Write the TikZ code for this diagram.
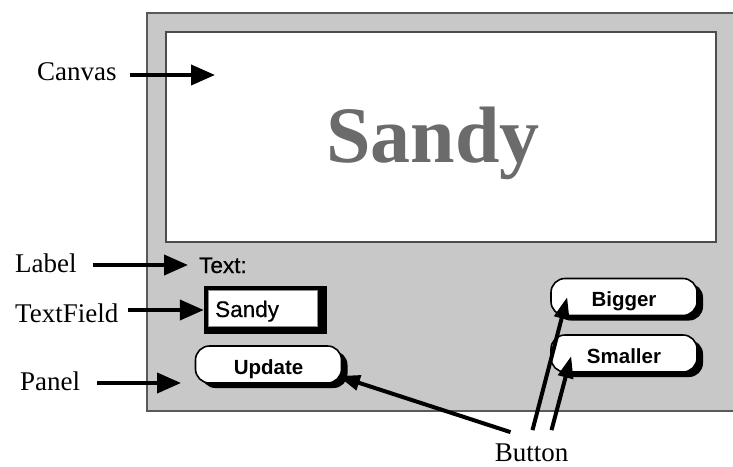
\documentclass[tikz,border=0pt]{standalone}
\usepackage{fontspec}
\setmainfont{Liberation Serif}
\setsansfont{Liberation Sans}
\newfontfamily\uifont[FakeBold=0.6]{Liberation Sans}
\usepackage{tikz}
\usetikzlibrary{arrows.meta, shadows, positioning}

\definecolor{panelgray}{HTML}{C8C8C8}
\definecolor{inkgray}{HTML}{6B6B6B}

\begin{document}
\begin{tikzpicture}[x=1pt, y=-1pt,
    ptr/.style={line width=4pt, -{Triangle[length=24pt,width=20pt]}},
    ptrs/.style={line width=4pt, -{Triangle[length=22pt,width=15pt]}},
    lbl/.style={inner sep=0pt, anchor=base west, font=\fontsize{27}{30}\selectfont},
    uitext/.style={inner sep=0pt, anchor=base west, font=\uifont\fontsize{22.5}{26}\selectfont},
    btn/.style={draw, fill=white, line width=1.6pt, rounded corners=14pt,
        minimum width=146pt, minimum height=37pt, inner sep=0pt,
        text height=19pt, text depth=0pt,
        font=\sffamily\bfseries\fontsize{20.5}{24}\selectfont,
        drop shadow={shadow xshift=6pt, shadow yshift=-5pt, fill=black, opacity=1}}]
    \useasboundingbox (0,0) rectangle (733,466);

    % 1. Panel
    \fill[panelgray] (147,13) rectangle (733,411);
    \draw[line width=1.5pt, black!65] (733,13) -- (147,13) -- (147,411) -- (733,411);

    % 2. Canvas
    \node[draw=black!70, line width=1.2pt, fill=white, inner sep=0pt,
        minimum width=550pt, minimum height=210pt] (canvas) at (441,137) {};
    \node[anchor=base, inner sep=0pt, text=inkgray,
        font=\bfseries\fontsize{80}{90}\selectfont] (bigname) at (433,162) {Sandy};

    % 3. Label und TextField
    \node[uitext] (textlbl) at (199,273) {Text:};
    \node[fill=black, inner sep=0pt, minimum width=123pt, minimum height=48pt] (fieldbox) at (265.5,310) {};
    \node[fill=white, draw=black!45, line width=0.8pt, inner sep=0pt,
        minimum width=109pt, minimum height=36pt] (field) at (263,308.5) {};
    \node[uitext] (fieldtext) at (215,317) {Sandy};

    % 4. Buttons
    \node[btn] (update) at (268.5,364.5) {Update};
    \node[btn] (bigger) at (624,297) {Bigger};
    \node[btn] (smaller) at (624,353.5) {Smaller};

    % 5. Beschriftungen
    \node[lbl] (canvaslbl) at (37,80) {Canvas};
    \node[lbl] (labellbl) at (15,272) {Label};
    \node[lbl] (fieldlbl) at (15,322) {TextField};
    \node[lbl] (panellbl) at (20,390) {Panel};
    \node[lbl, anchor=base] (buttonlbl) at (531.5,461) {Button};

    \coordinate (canvastip) at (215,75);
    \coordinate (labeltip) at (188,265);
    \coordinate (paneltip) at (181,383);
    \coordinate (updatetip) at (338,376);

    % 6. Pfeile
    \draw[ptr, shorten <=13pt] (canvaslbl.east |- canvastip) -- (canvastip);
    \draw[ptr, shorten <=16pt] (labellbl.east |- labeltip) -- (labeltip);
    \draw[ptr, shorten <=10pt] (fieldlbl.east |- fieldbox.west) -- (fieldbox.west);
    \draw[ptr, shorten <=17pt] (panellbl.east |- paneltip) -- (paneltip);

    \draw[ptrs] ([xshift=-21pt, yshift=11pt]buttonlbl.north) -- (updatetip);
    \draw[ptrs] ([xshift=1pt, yshift=13pt]buttonlbl.north) -- ([xshift=17pt]bigger.west);
    \draw[ptrs] ([xshift=20pt, yshift=13pt]buttonlbl.north) -- ([xshift=21pt, yshift=-2.5pt]smaller.west);
\end{tikzpicture}
\end{document}
